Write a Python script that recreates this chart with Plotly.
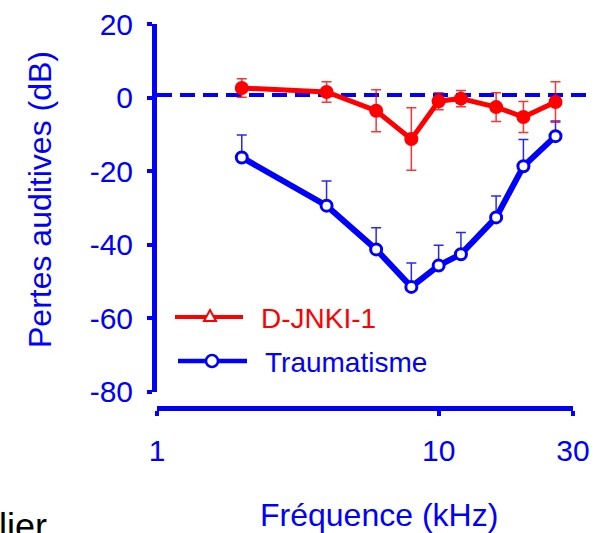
import plotly.graph_objects as go

# ---- data ----
freq_khz = [2, 4, 6, 8, 10, 12, 16, 20, 26]
djnki_db = [2.6, 1.5, -3.6, -11.3, -1.0, -0.3, -2.6, -5.3, -1.2]
djnki_err = [2.5, 2.8, 5.7, 8.5, 2.3, 2.2, 3.9, 4.2, 5.5]
trauma_db = [-16.3, -29.4, -41.3, -51.5, -45.7, -42.6, -32.6, -18.7, -10.5]
trauma_err = [6.1, 6.7, 5.9, 6.5, 5.5, 5.9, 5.8, 7.3, 4.1]
y_ticks = [20, 0, -20, -40, -60, -80]
y_tick_text = ["20", "0", "-20", "-40", "-60", "-80"]
x_ticks = [1, 10, 30]
x_tick_text = ["1", "10", "30"]
series_names = ["D-JNKI-1", "Traumatisme"]

BLUE = "#0000FF"
RED = "#FF0000"
FONT = "Liberation Sans, Arial, sans-serif"

W, H = 597, 533
L, R, T, B = 157, 24, 24, 125
PW, PH = W - L - R, H - T - B


def px(xp):
    return (xp - L) / PW


def py(yp):
    return (H - B - yp) / PH


fig = go.Figure()

fig.add_trace(go.Scatter(
    x=freq_khz, y=trauma_db, mode="lines+markers", name=series_names[1],
    line=dict(color=BLUE, width=6),
    marker=dict(symbol="circle", size=11, color="white", line=dict(color=BLUE, width=3)),
    error_y=dict(type="data", array=trauma_err, arrayminus=[0] * len(trauma_err),
                 symmetric=False, color="rgba(0,0,255,0.85)", thickness=1.5, width=5),
    showlegend=False,
))

fig.add_trace(go.Scatter(
    x=freq_khz, y=djnki_db, mode="lines+markers", name=series_names[0],
    line=dict(color=RED, width=5),
    marker=dict(symbol="circle", size=14, color=RED),
    error_y=dict(type="data", array=djnki_err, color="rgba(255,0,0,0.8)",
                 thickness=1.5, width=5),
    showlegend=False,
))

shapes = []
# zero reference line
shapes.append(dict(type="line", xref="paper", yref="y", x0=px(157), x1=px(587),
                   y0=0.7, y1=0.7, layer="below",
                   line=dict(color=BLUE, width=4, dash="15px,8px")))
# legend samples
shapes.append(dict(type="line", xref="paper", yref="paper", x0=px(175), x1=px(243),
                   y0=py(317), y1=py(317), line=dict(color=RED, width=4)))
tri = "M {} {} L {} {} L {} {} Z".format(px(204), py(321), px(216), py(321), px(210), py(310))
shapes.append(dict(type="path", xref="paper", yref="paper", path=tri,
                   fillcolor="white", line=dict(color=RED, width=2)))
shapes.append(dict(type="line", xref="paper", yref="paper", x0=px(178), x1=px(247),
                   y0=py(361), y1=py(361), line=dict(color=BLUE, width=4.5)))
shapes.append(dict(type="circle", xref="paper", yref="paper", x0=px(206), x1=px(218),
                   y0=py(355), y1=py(367), fillcolor="white", line=dict(color=BLUE, width=2.5)))

annotations = [
    dict(text=series_names[0], x=px(259), y=py(318), xref="paper", yref="paper",
         xanchor="left", yanchor="middle", showarrow=False,
         font=dict(family=FONT, size=28, color=RED)),
    dict(text=series_names[1], x=px(263), y=py(362), xref="paper", yref="paper",
         xanchor="left", yanchor="middle", showarrow=False,
         font=dict(family=FONT, size=28, color=BLUE)),
    dict(text="Pertes auditives (dB)", x=px(40), y=py(200), xref="paper", yref="paper",
         xanchor="center", yanchor="middle", textangle=-90, showarrow=False,
         font=dict(family=FONT, size=32, color=BLUE)),
    dict(text="Fréquence (kHz)", x=px(379), y=py(515), xref="paper", yref="paper",
         xanchor="center", yanchor="middle", showarrow=False,
         font=dict(family=FONT, size=32, color=BLUE)),
    dict(text="lier", x=px(-3), y=py(526), xref="paper", yref="paper",
         xanchor="left", yanchor="middle", showarrow=False,
         font=dict(family=FONT, size=36, color="black")),
]

ydom0 = (H - B - 391.7) / PH

fig.update_layout(
    width=W, height=H,
    margin=dict(l=L, r=R, t=T, b=B, pad=0),
    paper_bgcolor="white", plot_bgcolor="white",
    shapes=shapes, annotations=annotations,
    showlegend=False,
    xaxis=dict(type="log", range=[0, 1.4771], anchor="free", position=0,
               tickvals=x_ticks, ticktext=x_tick_text, automargin=False,
               showgrid=False, zeroline=False, showline=True, linecolor=BLUE, linewidth=5,
               ticks="outside", ticklen=5, tickwidth=4, tickcolor=BLUE,
               ticklabelstandoff=9,
               tickfont=dict(family=FONT, size=30, color=BLUE)),
    yaxis=dict(range=[-80, 20], domain=[ydom0, 1], automargin=False,
               tickvals=y_ticks, ticktext=y_tick_text,
               showgrid=False, zeroline=False, showline=True, linecolor=BLUE, linewidth=5,
               ticks="outside", ticklen=5, tickwidth=4, tickcolor=BLUE,
               ticklabelstandoff=8,
               tickfont=dict(family=FONT, size=30, color=BLUE)),
)

fig.write_html(
    "out.html",
    config={"displayModeBar": False},
    post_script="document.body.style.margin='0';document.body.style.overflow='hidden';",
)
